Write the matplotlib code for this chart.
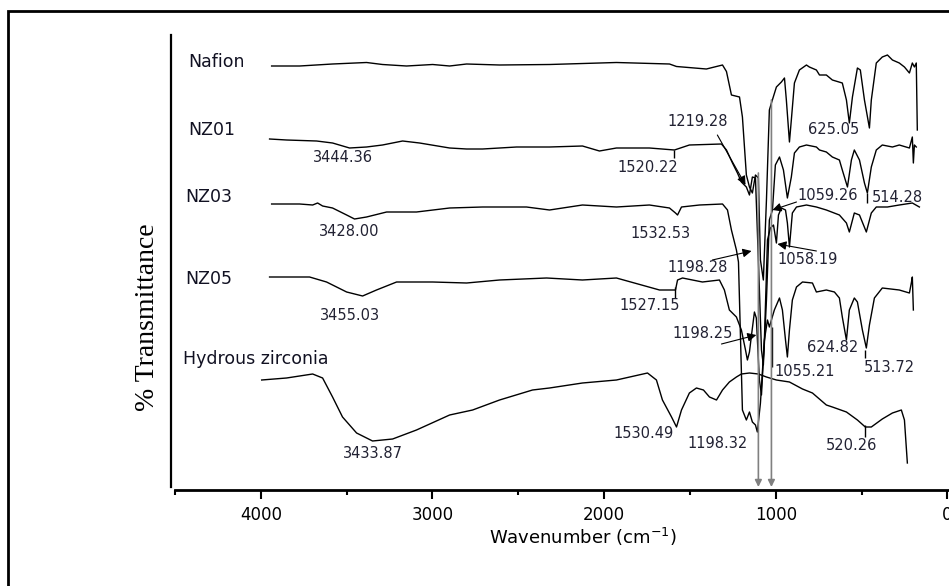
import matplotlib
matplotlib.use("Agg")
import matplotlib.pyplot as plt
from matplotlib import font_manager
from matplotlib.patches import Rectangle

# FTIR spectra, stacked (% transmittance, arbitrary offsets)
nafion_wn = [3937, 3774, 3582, 3384, 3291, 3151, 2999, 2900, 2801, 2609,
             2318, 1928, 1619, 1578, 1404, 1310, 1287, 1258, 1211, 1194,
             1171, 1153, 1136, 1118, 1101, 1089, 1072, 1054, 1037, 1025,
             996, 967, 949, 938, 920, 909, 891, 862, 821, 804,
             763, 745, 705, 670, 612, 588, 571, 553, 524, 507,
             483, 454, 443, 414, 379, 349, 320, 280, 250, 221,
             204, 192, 181, 175]
nafion_t = [84.8, 84.8, 85.2, 85.5, 85.1, 84.8, 85.1, 84.8, 85.2, 85.0,
            85.1, 85.5, 85.2, 84.7, 84.2, 85.0, 83.7, 79.0, 78.6, 74.6,
            63.0, 60.6, 59.4, 63.0, 62.4, 46.0, 42.0, 58.0, 76.0, 77.4,
            80.6, 81.6, 82.4, 78.0, 69.6, 74.0, 81.4, 84.0, 85.0, 84.6,
            84.0, 83.0, 83.0, 82.0, 81.4, 78.0, 73.4, 78.6, 84.4, 84.0,
            78.0, 72.4, 78.0, 85.4, 86.6, 87.0, 86.0, 85.4, 84.6, 83.4,
            85.4, 84.6, 85.4, 72.0]

nz01_wn = [3949, 3850, 3675, 3582, 3483, 3384, 3291, 3174, 3075, 2900,
           2801, 2708, 2510, 2318, 2126, 2027, 1928, 1736, 1590, 1503,
           1316, 1287, 1252, 1223, 1200, 1171, 1153, 1136, 1118, 1101,
           1083, 1072, 1054, 1037, 1019, 1002, 978, 955, 932, 909,
           891, 862, 821, 763, 745, 705, 670, 629, 612, 582,
           559, 542, 512, 483, 466, 443, 414, 379, 320, 280,
           221, 204, 198, 192, 181]
nz01_t = [70.2, 70.0, 69.8, 69.4, 68.4, 68.6, 69.0, 69.8, 69.4, 68.4,
          68.2, 68.2, 68.6, 68.6, 68.8, 67.8, 68.4, 68.4, 68.0, 69.0,
          69.2, 68.0, 65.4, 63.4, 61.6, 60.6, 59.0, 62.6, 62.4, 46.0,
          28.0, 25.0, 38.0, 54.0, 56.0, 65.0, 66.6, 64.0, 58.4, 62.6,
          67.4, 68.6, 69.0, 68.6, 68.0, 67.6, 66.6, 66.0, 64.0, 60.6,
          66.0, 68.0, 66.0, 61.4, 59.4, 64.6, 68.0, 69.0, 68.6, 69.0,
          68.4, 70.6, 65.4, 69.0, 68.6]

nz03_wn = [3937, 3774, 3698, 3669, 3640, 3582, 3500, 3454, 3384, 3267,
           3093, 2900, 2708, 2452, 2318, 2126, 1928, 1736, 1619, 1584,
           1572, 1549, 1444, 1310, 1281, 1258, 1229, 1217, 1194, 1171,
           1153, 1136, 1118, 1107, 1089, 1066, 1048, 1031, 1013, 996,
           984, 967, 943, 932, 920, 903, 879, 821, 763, 705,
           629, 588, 571, 542, 512, 472, 443, 414, 349, 280,
           204, 163]
nz03_t = [57.2, 57.2, 57.0, 57.4, 56.8, 56.4, 55.0, 54.2, 54.6, 55.6,
          55.6, 56.4, 56.6, 56.6, 56.0, 57.0, 56.6, 57.0, 56.4, 55.4,
          55.0, 56.6, 57.0, 57.2, 56.0, 52.0, 48.0, 45.6, 16.0, 14.0,
          15.6, 13.6, 13.0, 11.6, 17.4, 30.0, 50.0, 52.4, 53.0, 49.4,
          55.0, 56.4, 56.0, 53.4, 48.6, 55.4, 56.6, 57.0, 56.6, 56.0,
          55.0, 53.4, 51.6, 55.4, 55.0, 51.6, 55.4, 56.6, 56.6, 57.0,
          57.4, 56.6]

nz05_wn = [3949, 3716, 3617, 3500, 3407, 3326, 3209, 2999, 2801, 2609,
           2335, 2126, 1928, 1677, 1584, 1572, 1543, 1427, 1328, 1299,
           1270, 1229, 1200, 1176, 1165, 1153, 1141, 1124, 1113, 1095,
           1083, 1066, 1048, 1037, 1008, 978, 961, 943, 932, 920,
           903, 879, 844, 786, 763, 705, 658, 629, 612, 588,
           571, 542, 524, 495, 472, 454, 425, 379, 280, 221,
           210, 204, 198]
nz05_t = [42.6, 42.6, 41.6, 39.6, 38.8, 40.0, 41.6, 41.6, 41.4, 42.0,
          42.4, 42.0, 42.4, 40.0, 40.0, 42.0, 42.4, 41.6, 42.0, 40.0,
          36.0, 34.6, 32.0, 28.0, 26.0, 27.6, 31.0, 35.6, 34.4, 22.0,
          19.0, 30.0, 34.0, 32.6, 36.0, 38.4, 36.0, 30.0, 26.6, 32.0,
          38.0, 40.6, 41.6, 41.4, 39.6, 40.0, 39.6, 38.4, 34.6, 30.0,
          36.0, 38.4, 37.6, 32.0, 28.4, 33.0, 38.4, 40.4, 40.0, 39.4,
          41.4, 42.6, 36.0]

hz_wn = [3995, 3850, 3698, 3640, 3582, 3524, 3442, 3349, 3232, 3093,
         2900, 2766, 2609, 2417, 2318, 2126, 1928, 1747, 1695, 1660,
         1607, 1578, 1549, 1503, 1462, 1421, 1386, 1345, 1310, 1270,
         1229, 1200, 1153, 1101, 1054, 996, 920, 844, 786, 705,
         670, 588, 524, 478, 443, 379, 320, 268, 250, 233]
hz_t = [22.0, 22.4, 23.2, 22.4, 18.6, 14.6, 11.4, 9.8, 10.2, 12.0,
        15.0, 16.0, 18.0, 20.0, 20.4, 21.4, 22.0, 23.4, 22.0, 18.0,
        14.6, 12.6, 16.0, 19.4, 20.4, 20.0, 18.6, 18.0, 20.0, 21.6,
        22.6, 23.2, 23.4, 23.2, 22.6, 22.0, 21.6, 20.2, 19.4, 17.0,
        16.6, 15.6, 14.0, 12.6, 12.6, 14.2, 15.4, 16.0, 14.0, 5.4]

series_names = ["Nafion", "NZ01", "NZ03", "NZ05", "Hydrous zirconia"]
name_pos = [(4420, 85.6), (4420, 72.0), (4438, 58.6), (4438, 42.2), (4455, 26.2)]

# peak labels: text, x, y
peak_labels = [
    ("3444.36", 3524, 66.6), ("1520.22", 1747, 64.6), ("1219.28", 1456, 73.6),
    ("625.05", 664, 72.0), ("1059.26", 699, 58.8), ("514.28", 291, 58.4),
    ("3428.00", 3483, 51.8), ("1532.53", 1672, 51.4), ("1198.28", 1456, 44.4),
    ("1058.19", 815, 46.0), ("3455.03", 3483, 34.8), ("1527.15", 1736, 36.8),
    ("1198.25", 1427, 31.2), ("624.82", 670, 28.4), ("1055.21", 833, 23.6),
    ("513.72", 338, 24.6), ("3433.87", 3349, 7.2), ("1530.49", 1770, 11.2),
    ("1198.32", 1340, 9.2), ("520.26", 559, 8.8),
]
# black pointer arrows: (x_from, y_from, x_to, y_to)
pointer_arrows = [
    (1340, 71.0, 1176, 61.0),
    (879, 57.6, 1019, 56.0),
    (1369, 46.0, 1141, 47.8),
    (763, 47.8, 990, 49.2),
    (1316, 29.2, 1113, 31.0),
]
# short vertical peak markers: x, y_top, y_bottom
peak_marks_x = [1590, 1584, 466, 478, 478, 1019]
peak_marks_top = [68.0, 40.6, 59.4, 28.0, 13.0, 32.6]
peak_marks_bot = [66.4, 38.4, 57.4, 26.4, 10.6, 24.6]
# grey guide arrows down to the axis
guide_x = [1101, 1025]
guide_top = [63.4, 78.0]


def pick_font(name, fallback="DejaVu Sans"):
    try:
        font_manager.findfont(name, fallback_to_default=False)
        return name
    except Exception:
        return fallback


narrow = pick_font("Liberation Sans Narrow")
serif = pick_font("Liberation Serif", "DejaVu Serif")

fig = plt.figure(figsize=(9.49, 5.86), dpi=100)
ax = fig.add_axes([175 / 949, 96 / 586, 841 / 949, 455 / 586])

spectra = [(nafion_wn, nafion_t), (nz01_wn, nz01_t), (nz03_wn, nz03_t),
           (nz05_wn, nz05_t), (hz_wn, hz_t)]
for wn, t in spectra:
    ax.plot(wn, t, color="black", lw=1.0)

ax.vlines(peak_marks_x, peak_marks_bot, peak_marks_top, color="black", lw=1.0)

for gx, gt in zip(guide_x, guide_top):
    ax.annotate("", xy=(gx, 0.6), xytext=(gx, gt),
                arrowprops=dict(arrowstyle="-|>", color="#808080", lw=1.2,
                                mutation_scale=10, shrinkA=0, shrinkB=0))

for x0, y0, x1, y1 in pointer_arrows:
    ax.annotate("", xy=(x1, y1), xytext=(x0, y0),
                arrowprops=dict(arrowstyle="-|>", color="black", lw=0.8,
                                mutation_scale=13, shrinkA=0, shrinkB=0))

for txt, x, y in peak_labels:
    ax.text(x, y, txt, fontsize=10.5, color="#222233", ha="center", va="center")

for name, (x, y) in zip(series_names, name_pos):
    ax.text(x, y, name, fontsize=12.5, color="#111122", ha="left", va="center")

ax.set_xlim(4500, -400)
ax.set_ylim(0, 91)
ax.set_xticks([4000, 3000, 2000, 1000, 0])
ax.set_xticks([4500, 3500, 2500, 1500, 500], minor=True)
ax.set_yticks([])
ax.tick_params(axis="x", which="major", length=6.5, width=1.5, direction="out",
               labelsize=12, pad=5)
ax.tick_params(axis="x", which="minor", length=3.8, width=1.5, direction="out")
ax.spines["top"].set_visible(False)
ax.spines["right"].set_visible(False)
ax.spines["bottom"].set_linewidth(2.0)
ax.spines["left"].set_linewidth(1.6)
ax.spines["left"].set_position(("outward", 3))
ax.spines["left"].set_bounds(0.6, 91)

fig.text(583 / 949, 1 - 537 / 586, "Wavenumber (cm$^{-1}$)", family=narrow,
         fontsize=13, ha="center", va="center")
fig.text(147 / 949, 1 - 317 / 586, "% Transmittance", family=serif,
         fontsize=20, rotation=90, ha="center", va="center")

# outer frame of the original figure
fig.add_artist(Rectangle((8 / 949, -0.5), 2.0, 1.5 - 11 / 586, fill=False,
                         lw=2.0, edgecolor="black", transform=fig.transFigure))

fig.savefig("out.png", dpi=100)
